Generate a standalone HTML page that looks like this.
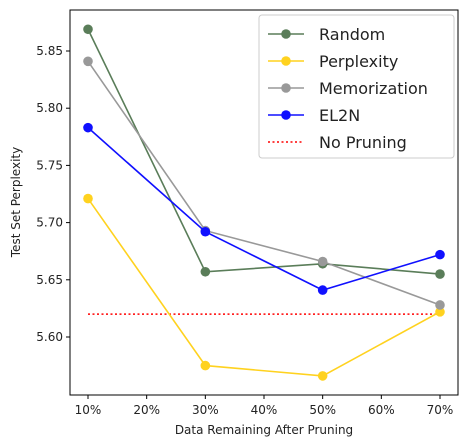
<!DOCTYPE html>
<html><head><meta charset="utf-8"><style>body{margin:0;background:#fff}svg{display:block;font-family:"DejaVu Sans","Liberation Sans",sans-serif}</style></head>
<body>
<svg id="chart" width="467" height="448"></svg>
<script>
const categories=[10,30,50,70];
const xTicks=[10,20,30,40,50,60,70];
const yTicks=[5.60,5.65,5.70,5.75,5.80,5.85];
const randomVals=[5.869,5.657,5.664,5.655];
const perplexityVals=[5.721,5.575,5.566,5.622];
const memorizationVals=[5.841,5.693,5.666,5.628];
const el2nVals=[5.783,5.692,5.641,5.672];
const noPruning=5.62;
const svg=document.getElementById('chart');const NS='http://www.w3.org/2000/svg';
function x(v){return 88+(v-10)*(352/60);}
function y(v){return 51+(5.85-v)*1144;}
function mk(t,a,p){const e=document.createElementNS(NS,t);for(const k in a)e.setAttribute(k,a[k]);(p||svg).appendChild(e);return e;}
// axes
const ax=mk('rect',{x:70,y:10,width:388,height:385,fill:'none',stroke:'#000','stroke-width':1});

xTicks.forEach(t=>{mk('line',{x1:x(t),x2:x(t),y1:395,y2:399,stroke:'#000'});
const tx=mk('text',{x:x(t),y:414,'font-size':12,'text-anchor':'middle',fill:'#222'});tx.textContent=t+'%';
});
yTicks.forEach(t=>{mk('line',{x1:66,x2:70,y1:y(t),y2:y(t),stroke:'#000'});
const tx=mk('text',{x:63,y:y(t)+4,'font-size':12,'text-anchor':'end',fill:'#222'});tx.textContent=t.toFixed(2);
});
const xt=mk('text',{x:264,y:434,'font-size':12,'text-anchor':'middle',fill:'#222'});xt.textContent='Data Remaining After Pruning';

const yt=mk('text',{x:0,y:0,'font-size':12,'text-anchor':'middle',fill:'#222',transform:'translate(20,202) rotate(-90)'});yt.textContent='Test Set Perplexity';

// no pruning
const np=mk('line',{x1:x(10),x2:x(70),y1:y(noPruning),y2:y(noPruning),stroke:'#ff0000','stroke-width':1.5,'stroke-dasharray':'2,2.5'});

const series=[['random',randomVals,'#5a7d59'],['perplexity',perplexityVals,'#ffd21f'],['memorization',memorizationVals,'#999999'],['el2n',el2nVals,'#1010ff']];
series.forEach(([n,vals,c])=>{const g=mk('g',{});
mk('polyline',{points:vals.map((v,i)=>x(categories[i])+','+y(v)).join(' '),fill:'none',stroke:c,'stroke-width':1.6},g);
vals.forEach((v,i)=>{const p=mk('circle',{cx:x(categories[i]),cy:y(v),r:4.8,fill:c},g);});});
// legend
const lg=mk('g',{});
mk('rect',{x:259,y:15,width:195,height:143,rx:3,fill:'#fff','fill-opacity':0.85,stroke:'#ccc'},lg);
const items=[['Random','#5a7d59',0],['Perplexity','#ffd21f',0],['Memorization','#999999',0],['EL2N','#1010ff',0],['No Pruning','#ff0000',1]];
items.forEach(([t,c,d],i)=>{const yy=34+i*27;const e=mk('g',{},lg);
if(d)mk('line',{x1:268,x2:304,y1:yy,y2:yy,stroke:c,'stroke-width':1.5,'stroke-dasharray':'2,2.5'},e);
else{mk('line',{x1:268,x2:304,y1:yy,y2:yy,stroke:c,'stroke-width':1.6},e);mk('circle',{cx:286,cy:yy,r:4.8,fill:c},e);}
const tx=mk('text',{x:319,y:yy+6,'font-size':16,fill:'#222'},e);tx.textContent=t;});
</script>
</body></html>
